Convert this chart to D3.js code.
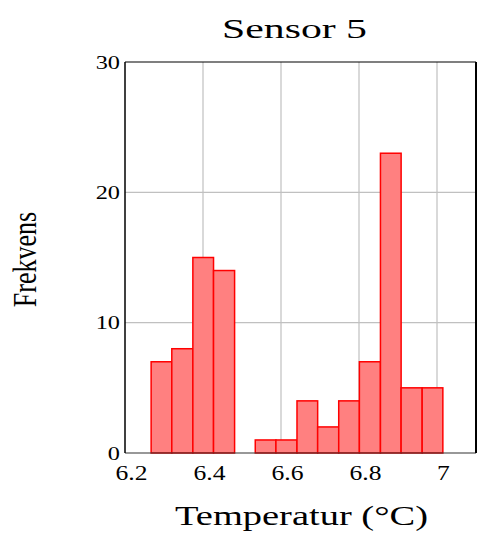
<!DOCTYPE html>
<html>
<head>
<meta charset="utf-8">
<script src="https://cdn.jsdelivr.net/npm/d3@7/dist/d3.min.js"></script>
<style>
  html, body { margin: 0; padding: 0; background: #fff; }
  svg text { font-family: "Liberation Serif", "Times New Roman", serif; fill: #000; }
</style>
</head>
<body>
<svg id="chart" width="477" height="540"></svg>
<script>
const title = "Sensor 5";
const xLabel = "Temperatur (°C)";
const yLabel = "Frekvens";
const binEdges = [6.267, 6.320, 6.374, 6.427, 6.481, 6.534, 6.587, 6.641, 6.694, 6.748, 6.801, 6.855, 6.908, 6.962, 7.015];
const counts = [7, 8, 15, 14, 0, 1, 1, 4, 2, 4, 7, 23, 5, 5];
const xTicks = [6.2, 6.4, 6.6, 6.8, 7.0];
const xTickLabels = ["6.2", "6.4", "6.6", "6.8", "7"];
const yTicks = [0, 10, 20, 30];
const xGrid = [6.4, 6.6, 6.8, 7.0];
const yGrid = [10, 20];

const svg = d3.select("#chart");
const pL = 125, pR = 476, pT = 62, pB = 453;
const sx = 1.28; // horizontal text stretch seen in reference

const x = d3.scaleLinear().domain([6.2, 7.1]).range([pL, pR]);
const y = d3.scaleLinear().domain([0, 30]).range([pB, pT]);

// grid
svg.append("g").selectAll("line").data(xGrid).join("line")
  .attr("x1", d => x(d)).attr("x2", d => x(d))
  .attr("y1", pT).attr("y2", pB)
  .attr("stroke", "#c0c0c0").attr("stroke-width", 1.2);
svg.append("g").selectAll("line").data(yGrid).join("line")
  .attr("x1", pL).attr("x2", pR)
  .attr("y1", d => y(d)).attr("y2", d => y(d))
  .attr("stroke", "#c0c0c0").attr("stroke-width", 1.2);

// bars
const bins = counts.map((c, i) => ({x0: binEdges[i], x1: binEdges[i + 1], c}));
svg.append("g").selectAll("rect").data(bins.filter(b => b.c > 0)).join("rect")
  .attr("x", d => x(d.x0))
  .attr("width", d => x(d.x1) - x(d.x0))
  .attr("y", d => y(d.c))
  .attr("height", d => y(0) - y(d.c))
  .attr("fill", "#ff8080")
  .attr("stroke", "#ff0000")
  .attr("stroke-width", 1.5);

// frame
svg.append("line").attr("x1", pL).attr("x2", pR).attr("y1", pT).attr("y2", pT)
  .attr("stroke", "#000").attr("stroke-width", 1.2);
svg.append("line").attr("x1", pL).attr("x2", pR).attr("y1", pB).attr("y2", pB)
  .attr("stroke", "#333").attr("stroke-width", 1.2);
svg.append("line").attr("x1", pL).attr("x2", pL).attr("y1", pT).attr("y2", pB)
  .attr("stroke", "#000").attr("stroke-width", 1.5);
svg.append("line").attr("x1", pR).attr("x2", pR).attr("y1", pT).attr("y2", pB)
  .attr("stroke", "#000").attr("stroke-width", 2);

// x tick labels
svg.append("g").selectAll("text").data(xTicks).join("text")
  .attr("transform", d => `translate(${x(d) + 6.5},480) scale(${sx},1)`)
  .attr("text-anchor", "middle")
  .style("font-size", "20px")
  .text((d, i) => xTickLabels[i]);

// y tick labels
svg.append("g").selectAll("text").data(yTicks).join("text")
  .attr("transform", d => `translate(120,${y(d) + 6.5}) scale(${sx},1)`)
  .attr("text-anchor", "end")
  .style("font-size", "19px")
  .text(d => d);

// title
svg.append("text")
  .attr("x", 222).attr("y", 37.5)
  .attr("textLength", 145).attr("lengthAdjust", "spacingAndGlyphs")
  .style("font-size", "28px")
  .text(title);

// x label
svg.append("text")
  .attr("x", 175).attr("y", 525)
  .attr("textLength", 253).attr("lengthAdjust", "spacingAndGlyphs")
  .style("font-size", "27px")
  .text(xLabel);

// y label
svg.append("text")
  .attr("transform", `translate(36,259.5) scale(${sx},1) rotate(-90)`)
  .attr("text-anchor", "middle")
  .style("font-size", "26px")
  .text(yLabel);
</script>
</body>
</html>
